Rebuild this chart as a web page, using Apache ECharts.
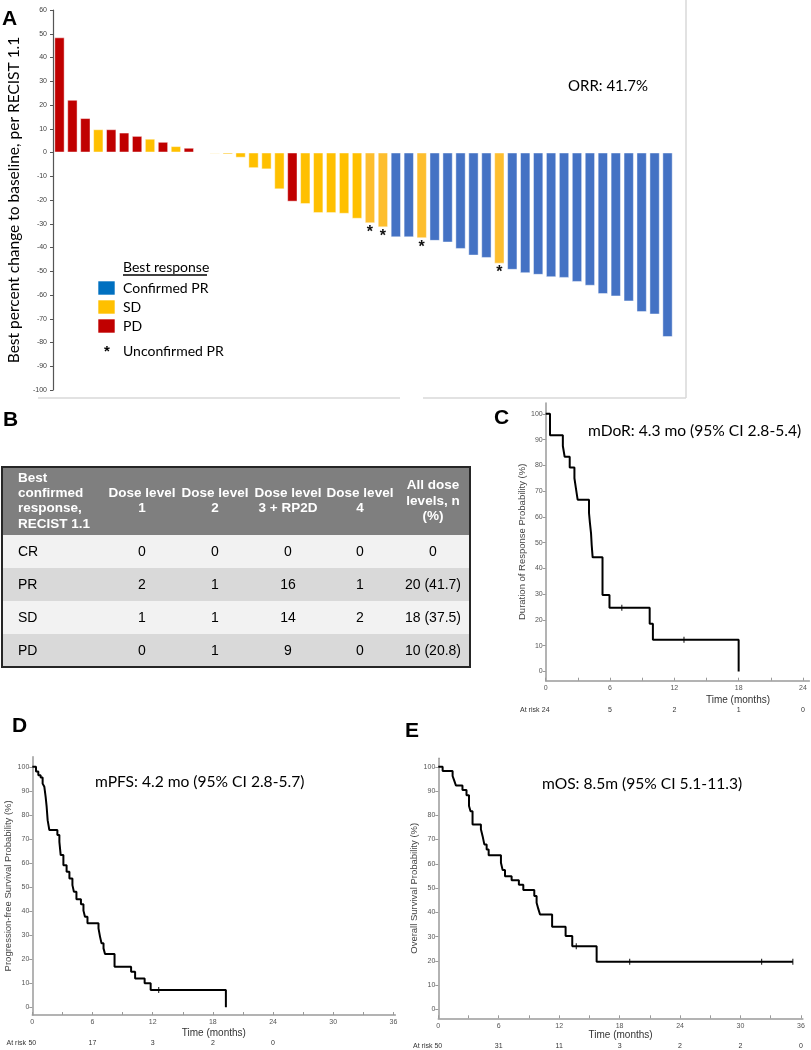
<!DOCTYPE html>
<html><head><meta charset="utf-8">
<script src="https://cdn.jsdelivr.net/npm/echarts@6/dist/echarts.min.js"></script>
<style>html,body{margin:0;padding:0;background:#fff}#c{width:811px;height:1050px}</style>
</head><body><div id="c"></div>
<script>
// ---------------- DATA ----------------
// Panel A: waterfall (best % change from baseline), one entry per patient
const patients = Array.from({length: 48}, (_, i) => 'P' + (i + 1));
const changeValues = [48.5, 22.2, 14.5, 9.8, 9.8, 8.4, 7.0, 5.8, 4.5, 2.7, 2.0, 0,
  -0.5, -0.8, -2.2, -6.6, -7.1, -15.5, -20.7, -21.7, -25.5, -25.5, -25.8, -27.9,
  -29.8, -31.5, -35.7, -35.7, -36.1, -37.2, -37.9, -40.6, -43.4, -44.4, -46.8, -49.4,
  -50.8, -51.5, -52.5, -52.8, -54.5, -56.1, -59.6, -60.6, -62.7, -67.2, -68.2, -77.7];
const responses = ['PD','PD','PD','SD','PD','PD','PD','SD','PD','SD','PD','PD',
  'SD','SD','SD','SD','SD','SD','PD','SD','SD','SD','SD','SD',
  'SD','SD','PR','PR','SD','PR','PR','PR','PR','PR','SD','PR',
  'PR','PR','PR','PR','PR','PR','PR','PR','PR','PR','PR','PR'];
const unconfirmedPR = [24, 25, 28, 34];
const yTicksA = [60, 50, 40, 30, 20, 10, 0, -10, -20, -30, -40, -50, -60, -70, -80, -90, -100];
const legendItems = ['Confirmed PR', 'SD', 'PD'];

// Panel B: table
const tableHeader = ['Best\nconfirmed\nresponse,\nRECIST 1.1', 'Dose level\n1', 'Dose level\n2',
  'Dose level\n3 + RP2D', 'Dose level\n4', 'All dose\nlevels, n\n(%)'];
const tableRows = [
  ['CR', '0', '0', '0', '0', '0'],
  ['PR', '2', '1', '16', '1', '20 (41.7)'],
  ['SD', '1', '1', '14', '2', '18 (37.5)'],
  ['PD', '0', '1', '9', '0', '10 (20.8)']
];

// Panel C: duration of response (KM, [months, %])
const dorCurve = [[0,100],[0.4,91.7],[1.6,87.5],[1.77,83.3],[2.24,79.2],[2.68,75],[2.83,70.8],[2.98,66.7],
  [4.04,61.5],[4.13,57.5],[4.23,53.6],[4.29,49.1],[4.38,44.3],[5.3,29.7],[5.95,24.7],[9.7,18.5],[10.0,12.3],[18,0]];
const dorCensor = [[7.1,24.7],[12.9,12.3]];
const dorTicks = [0, 6, 12, 18, 24];
const dorAtRisk = [24, 5, 2, 1, 0];

// Panel D: progression-free survival
const pfsCurve = [[0,100],[0.37,98],[0.6,96.5],[0.83,95.5],[1.03,93],[1.2,91.7],[1.33,87.5],[1.43,83.4],
  [1.53,77.8],[1.7,73.7],[2.5,71.6],[2.7,68.8],[2.83,63.3],[3.1,59.1],[3.42,56.4],[3.7,53.6],[4.0,50.8],
  [4.15,48],[4.4,44.9],[4.85,42.8],[5.1,40.2],[5.25,37.7],[5.5,34.9],[6.6,32.8],[6.75,29.4],[6.9,26.6],
  [7.1,24.5],[7.25,22.2],[8.2,16.9],[9.85,14.8],[10.25,12],[11.2,10],[11.8,7.2],[19.3,0]];
const pfsCensor = [[12.6,7.2]];
const survTicks = [0, 6, 12, 18, 24, 30, 36];
const pfsAtRisk = [50, 17, 3, 2, 0, '', ''];

// Panel E: overall survival
const osCurve = [[0,100],[0.43,98.3],[1.42,96.2],[1.6,94.1],[1.75,92.3],[2.4,90.4],[2.8,88.3],[3.05,83.8],
  [3.2,81.7],[3.4,76.2],[4.23,74.2],[4.4,71.4],[4.57,68],[4.8,65.9],[5.0,63.5],[6.22,60.4],[6.39,57.4],
  [6.62,54.9],[7.28,53.2],[8.0,51.4],[8.44,49.2],[9.53,46.7],[9.76,43.9],[9.93,41.4],[10.1,39.1],
  [11.3,34],[12.64,30.2],[13.3,26],[15.72,19.6],[35.2,19.6]];
const osCensor = [[13.7,26],[19.0,19.6],[32.1,19.6],[35.2,19.6]];
const osAtRisk = [50, 31, 11, 3, 2, 2, 0];

const kmYTicks = [0,10,20,30,40,50,60,70,80,90,100];
const minorTicks = [0,3,6,9,12,15,18,21,24,27,30,33,36];

// ---------------- STYLE ----------------
const colors = {PR: '#4472C4', SD: '#FFC000', PD: '#C00000'};
const legendColors = ['#0070C0', '#FFC000', '#C00000'];
const ARIAL = '"Liberation Sans", Arial, sans-serif';
const CAL = 'Lato, "Noto Sans", sans-serif';

function T(x, y, text, font, align, fill, lineHeight) {
  const s = {x, y, text, font, fill: fill || '#000', textAlign: align || 'left', align: align || 'left',
    textVerticalAlign: 'middle', verticalAlign: 'middle'};
  if (lineHeight) s.lineHeight = lineHeight;
  return {type: 'text', silent: true, style: s};
}
const graphic = [];
// panel letters
graphic.push(T(2, 19, 'A', 'bold 21px ' + ARIAL));
graphic.push(T(3, 420, 'B', 'bold 21px ' + ARIAL));
graphic.push(T(494, 418, 'C', 'bold 21px ' + ARIAL));
graphic.push(T(12, 726, 'D', 'bold 21px ' + ARIAL));
graphic.push(T(405, 731, 'E', 'bold 21px ' + ARIAL));
// panel A frame
graphic.push({type: 'line', silent: true, shape: {x1: 686, y1: 0, x2: 686, y2: 398}, style: {stroke: '#d9d9d9', lineWidth: 1.5}});
graphic.push({type: 'line', silent: true, shape: {x1: 38, y1: 398, x2: 400, y2: 398}, style: {stroke: '#d9d9d9', lineWidth: 1.5}});
graphic.push({type: 'line', silent: true, shape: {x1: 423, y1: 398, x2: 686, y2: 398}, style: {stroke: '#d9d9d9', lineWidth: 1.5}});
graphic.push(T(568, 86, 'ORR: 41.7%', '15px ' + CAL));
// legend A
graphic.push(T(123, 267, 'Best response', '14px ' + CAL));
graphic.push({type: 'line', silent: true, shape: {x1: 123, y1: 275, x2: 207, y2: 275}, style: {stroke: '#000', lineWidth: 1.5}});
legendItems.forEach((name, i) => {
  const y = 281 + i * 19;
  graphic.push({type: 'rect', silent: true, shape: {x: 98, y, width: 17, height: 14},
    style: {fill: legendColors[i], stroke: 'rgba(255,255,255,0.6)', lineWidth: 1}});
  graphic.push(T(123, y + 7.5, name, '14px ' + CAL));
});
graphic.push(T(107, 352, '*', 'bold 15px ' + ARIAL, 'center'));
graphic.push(T(123, 351, 'Unconfirmed PR', '14px ' + CAL));
// table B
const colX = [18, 142, 215, 288, 360, 433];
const tblL = 2, tblR = 470, tblT = 467, hdrB = 535, rowH = 33;
graphic.push({type: 'rect', silent: true, shape: {x: tblL, y: tblT, width: tblR - tblL, height: hdrB - tblT}, style: {fill: '#7f7f7f'}});
tableRows.forEach((row, r) => {
  graphic.push({type: 'rect', silent: true, shape: {x: tblL, y: hdrB + r * rowH, width: tblR - tblL, height: rowH},
    style: {fill: r % 2 === 0 ? '#f2f2f2' : '#d9d9d9'}});
});
tableHeader.forEach((h, c) => {
  graphic.push(T(colX[c], 501, h, 'bold 13.5px ' + ARIAL, c === 0 ? 'left' : 'center', '#fff', 15.3));
});
tableRows.forEach((row, r) => {
  row.forEach((v, c) => {
    graphic.push(T(colX[c], hdrB + r * rowH + rowH / 2 + 0.5, v, '14px ' + ARIAL, c === 0 ? 'left' : 'center'));
  });
});
graphic.push({type: 'rect', silent: true, shape: {x: tblL, y: tblT, width: tblR - tblL, height: hdrB + 4 * rowH - tblT},
  style: {fill: 'none', stroke: '#262626', lineWidth: 2}});
// KM panel texts
graphic.push(T(588, 431, 'mDoR: 4.3 mo (95% CI 2.8-5.4)', '15.6px ' + CAL));
graphic.push(T(95, 782, 'mPFS: 4.2 mo (95% CI 2.8-5.7)', '15.6px ' + CAL));
graphic.push(T(542, 784, 'mOS: 8.5m (95% CI 5.1-11.3)', '15.6px ' + CAL));
graphic.push(T(738, 700, 'Time (months)', '10px ' + ARIAL, 'center', '#333'));
graphic.push(T(539.5, 710, 'At risk', '7px ' + ARIAL, 'right', '#333'));
graphic.push(T(26, 1043, 'At risk', '7px ' + ARIAL, 'right', '#333'));
graphic.push(T(432.5, 1046, 'At risk', '7px ' + ARIAL, 'right', '#333'));

// ---------------- AXES ----------------
const gray = '#9a9a9a';
function kmY(gridIndex, min, max, name, gap) {
  return {type: 'value', gridIndex, min, max, name, nameLocation: 'middle', nameGap: gap, nameRotate: 90,
    nameTextStyle: {fontFamily: ARIAL, fontSize: 9.5, color: '#444'},
    axisLine: {show: true, lineStyle: {color: gray, width: 1.5}},
    axisTick: {show: true, customValues: kmYTicks, length: 3, lineStyle: {color: gray}},
    axisLabel: {customValues: kmYTicks, fontSize: 7, color: '#555', margin: 3, fontFamily: ARIAL},
    splitLine: {show: false}};
}
function kmX(gridIndex, max, labelTicks, tickVals, name, gap) {
  return {type: 'value', gridIndex, min: 0, max, name, nameLocation: 'middle', nameGap: gap,
    nameTextStyle: {fontFamily: ARIAL, fontSize: 10, color: '#333'},
    axisLine: {show: true, onZero: false, lineStyle: {color: gray, width: 1.5}},
    axisTick: {show: true, customValues: tickVals, length: 3, inside: true, lineStyle: {color: gray}},
    axisLabel: {customValues: labelTicks, fontSize: 7, color: '#555', margin: 4, fontFamily: ARIAL},
    splitLine: {show: false}};
}
function riskX(gridIndex, max, ticks, risk, offset) {
  return {type: 'value', gridIndex, min: 0, max, position: 'bottom', offset,
    axisLine: {show: false}, axisTick: {show: false}, splitLine: {show: false},
    axisLabel: {customValues: ticks, fontSize: 7, color: '#333', margin: 0, fontFamily: ARIAL,
      formatter: v => { const i = ticks.indexOf(v); return i >= 0 ? String(risk[i]) : ''; }}};
}

const barData = changeValues.map((v, i) => {
  const unc = unconfirmedPR.indexOf(i) >= 0;
  return {value: v, itemStyle: {color: unc ? '#FDBE2E' : colors[responses[i]]},
    label: unc ? {show: true, position: 'bottom', distance: 1, formatter: '*', fontSize: 16, fontWeight: 'bold', color: '#111', fontFamily: ARIAL} : {show: false}};
});

const option = {
  backgroundColor: '#fff',
  animation: false,
  graphic: {elements: graphic},
  grid: [
    {left: 53, top: 10, width: 621, height: 380, outerBoundsMode: 'none'},
    {left: 545.7, top: 403, width: 263.7, height: 277.7, outerBoundsMode: 'none'},
    {left: 32.3, top: 756.7, width: 363.1, height: 258.3, outerBoundsMode: 'none'},
    {left: 438.3, top: 758.3, width: 364.6, height: 260, outerBoundsMode: 'none'}
  ],
  xAxis: [
    {type: 'category', gridIndex: 0, data: patients, show: false},
    kmX(1, 24.6, dorTicks, [0,3,6,9,12,15,18,21,24], '', 0),
    riskX(1, 24.6, dorTicks, dorAtRisk, 26),
    kmX(2, 36.2, survTicks, minorTicks, 'Time (months)', 13),
    riskX(2, 36.2, survTicks, pfsAtRisk, 24.5),
    kmX(3, 36.2, survTicks, minorTicks, 'Time (months)', 12.4),
    riskX(3, 36.2, survTicks, osAtRisk, 24)
  ],
  yAxis: [
    {type: 'value', gridIndex: 0, min: -100, max: 60, interval: 10,
      name: 'Best percent change to baseline, per RECIST 1.1', nameLocation: 'middle', nameGap: 28, nameRotate: 90,
      nameTextStyle: {fontFamily: CAL, fontSize: 15.5, color: '#000'},
      axisLine: {show: true, lineStyle: {color: '#555', width: 1.2}},
      axisTick: {show: true, length: 3, lineStyle: {color: '#555'}},
      axisLabel: {fontSize: 7, color: '#404040', margin: 6, fontFamily: ARIAL},
      splitLine: {show: false}},
    kmY(1, -3.57, 104.2, 'Duration of Response Probability (%)', 16),
    kmY(2, -3.2, 104.2, 'Progression-free Survival Probability (%)', 15),
    kmY(3, -3.7, 103.5, 'Overall Survival Probability (%)', 15)
  ],
  series: [
    {type: 'bar', xAxisIndex: 0, yAxisIndex: 0, barWidth: '80%', data: barData,
      itemStyle: {borderColor: 'rgba(255,255,255,0.45)', borderWidth: 1}},
    {type: 'line', xAxisIndex: 1, yAxisIndex: 1, step: 'end', showSymbol: false, data: dorCurve,
      lineStyle: {color: '#000', width: 2}},
    {type: 'scatter', xAxisIndex: 1, yAxisIndex: 1, symbol: 'rect', symbolSize: [1.2, 6], data: dorCensor, itemStyle: {color: '#000'}},
    {type: 'line', xAxisIndex: 3, yAxisIndex: 2, step: 'end', showSymbol: false, data: pfsCurve,
      lineStyle: {color: '#000', width: 2}},
    {type: 'scatter', xAxisIndex: 3, yAxisIndex: 2, symbol: 'rect', symbolSize: [1.2, 6], data: pfsCensor, itemStyle: {color: '#000'}},
    {type: 'line', xAxisIndex: 5, yAxisIndex: 3, step: 'end', showSymbol: false, data: osCurve,
      lineStyle: {color: '#000', width: 2}},
    {type: 'scatter', xAxisIndex: 5, yAxisIndex: 3, symbol: 'rect', symbolSize: [1.2, 6], data: osCensor, itemStyle: {color: '#000'}}
  ]
};
const chart = echarts.init(document.getElementById('c'), null, {renderer: 'canvas'});
chart.setOption(option);
</script></body></html>
